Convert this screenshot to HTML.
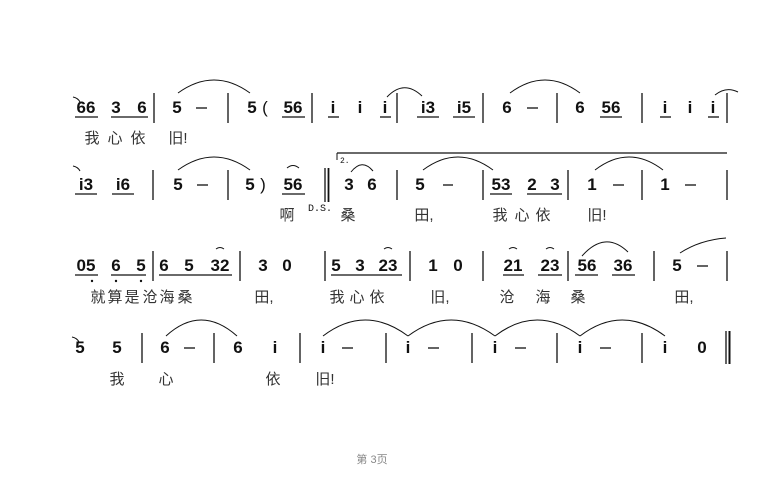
<!DOCTYPE html>
<html><head><meta charset="utf-8"><style>
html,body{margin:0;padding:0;background:#fff;}
svg{display:block;}
.n{font:bold 17px "Liberation Sans",sans-serif;fill:#111;text-anchor:middle;}
.l{font:15px "Liberation Sans","Noto Sans CJK SC",sans-serif;fill:#333;text-anchor:middle;}
.s{font:10px "Liberation Mono",monospace;fill:#111;}
line{stroke:#111;stroke-width:1.3;}
path{stroke:#111;stroke-width:1;fill:none;}
</style></head><body>
<svg width="779" height="492" viewBox="0 0 779 492" xmlns="http://www.w3.org/2000/svg">
<!-- ROW 1 baseline 113 -->
<g>
<text class="n" x="86" y="113">66</text><text class="n" x="116" y="113">3</text><text class="n" x="142" y="113">6</text>
<line x1="75" y1="117" x2="98" y2="117"/><line x1="111" y1="117" x2="148" y2="117"/>
<line x1="154" y1="93" x2="154" y2="123"/>
<text class="n" x="177" y="113">5</text><line x1="196" y1="108" x2="207" y2="108"/>
<line x1="228" y1="93" x2="228" y2="123"/>
<text class="n" x="252" y="113">5</text><text class="n" x="265" y="113" style="font-weight:normal">(</text>
<text class="n" x="293" y="113">56</text><line x1="282" y1="117" x2="305" y2="117"/>
<line x1="312" y1="93" x2="312" y2="123"/>
<text class="n" x="333" y="113">i</text><text class="n" x="360" y="113">i</text><text class="n" x="385" y="113">i</text>
<line x1="328" y1="117" x2="339" y2="117"/><line x1="380" y1="117" x2="391" y2="117"/>
<line x1="397" y1="93" x2="397" y2="123"/>
<text class="n" x="428" y="113">i3</text><text class="n" x="464" y="113">i5</text>
<line x1="417" y1="117" x2="439" y2="117"/><line x1="453" y1="117" x2="475" y2="117"/>
<line x1="483" y1="93" x2="483" y2="123"/>
<text class="n" x="507" y="113">6</text><line x1="527" y1="108" x2="538" y2="108"/>
<line x1="557" y1="93" x2="557" y2="123"/>
<text class="n" x="580" y="113">6</text><text class="n" x="611" y="113">56</text><line x1="600" y1="117" x2="622" y2="117"/>
<line x1="642" y1="93" x2="642" y2="123"/>
<text class="n" x="665" y="113">i</text><text class="n" x="690" y="113">i</text><text class="n" x="713" y="113">i</text>
<line x1="660" y1="117" x2="671" y2="117"/><line x1="708" y1="117" x2="719" y2="117"/>
<line x1="727" y1="93" x2="727" y2="123"/>
<path d="M73 97 Q78 98 80 102"/>
<path d="M178 93 Q214 67 250 93"/>
<path d="M387 97 Q404 79 422 96"/>
<path d="M510 93 Q545 67 580 93"/>
<path d="M715 95 Q726 86 738 92"/>
<text class="l" x="92" y="143">我</text><text class="l" x="115" y="143">心</text><text class="l" x="138" y="143">依</text><text class="l" x="178" y="143">旧!</text>
</g>
<!-- ROW 2 baseline 190 -->
<g>
<text class="n" x="86" y="190">i3</text><text class="n" x="123" y="190">i6</text>
<line x1="75" y1="194" x2="97" y2="194"/><line x1="112" y1="194" x2="134" y2="194"/>
<line x1="153" y1="170" x2="153" y2="200"/>
<text class="n" x="178" y="190">5</text><line x1="197" y1="185" x2="208" y2="185"/>
<line x1="228" y1="170" x2="228" y2="200"/>
<text class="n" x="250" y="190">5</text><text class="n" x="263" y="190" style="font-weight:normal">)</text>
<text class="n" x="293" y="190">56</text><line x1="282" y1="194" x2="305" y2="194"/>
<line x1="325" y1="168" x2="325" y2="202"/><line x1="328.5" y1="168" x2="328.5" y2="202" style="stroke-width:1.8"/>
<line x1="337" y1="153" x2="727" y2="153"/><line x1="337" y1="153" x2="337" y2="160" style="stroke-width:1"/>
<text class="s" x="340" y="163" style="font-size:8px">2.</text>
<text class="n" x="349" y="190">3</text><text class="n" x="372" y="190">6</text>
<line x1="397" y1="170" x2="397" y2="200"/>
<text class="n" x="420" y="190">5</text><line x1="443" y1="185" x2="453" y2="185"/>
<line x1="483" y1="170" x2="483" y2="200"/>
<text class="n" x="501" y="190">53</text><text class="n" x="532" y="190">2</text><text class="n" x="555" y="190">3</text>
<line x1="490" y1="194" x2="512" y2="194"/><line x1="527" y1="194" x2="562" y2="194"/>
<line x1="568" y1="170" x2="568" y2="200"/>
<text class="n" x="592" y="190">1</text><line x1="613" y1="185" x2="624" y2="185"/>
<line x1="642" y1="170" x2="642" y2="200"/>
<text class="n" x="665" y="190">1</text><line x1="685" y1="185" x2="696" y2="185"/>
<line x1="727" y1="170" x2="727" y2="200"/>
<path d="M73 166 Q78 167 80 171"/>
<path d="M178 170 Q214 144 250 170"/>
<path d="M287 168 Q293 163 299 168"/>
<path d="M351 172 Q362 158 373 171"/>
<path d="M423 170 Q458 144 493 170"/>
<path d="M595 170 Q629 144 663 170"/>
<text class="l" x="287" y="220">啊</text>
<text class="s" x="308" y="211">D.S.</text>
<text class="l" x="348" y="220">桑</text><text class="l" x="424" y="220">田,</text>
<text class="l" x="500" y="220">我</text><text class="l" x="522" y="220">心</text><text class="l" x="543" y="220">依</text><text class="l" x="597" y="220">旧!</text>
</g>
<!-- ROW 3 baseline 271 -->
<g>
<text class="n" x="86" y="271">05</text><text class="n" x="116" y="271">6</text><text class="n" x="141" y="271">5</text>
<line x1="75" y1="275" x2="98" y2="275"/><line x1="111" y1="275" x2="146" y2="275"/>
<circle cx="92" cy="281" r="1.2" fill="#111"/><circle cx="116" cy="281" r="1.2" fill="#111"/><circle cx="141" cy="281" r="1.2" fill="#111"/>
<line x1="153" y1="251" x2="153" y2="281"/>
<text class="n" x="164" y="271">6</text><text class="n" x="189" y="271">5</text><text class="n" x="220" y="271">32</text>
<line x1="159" y1="275" x2="232" y2="275"/>
<path d="M216 249 Q220 246 224 249"/>
<line x1="240" y1="251" x2="240" y2="281"/>
<text class="n" x="263" y="271">3</text><text class="n" x="287" y="271">0</text>
<line x1="325" y1="251" x2="325" y2="281"/>
<text class="n" x="336" y="271">5</text><text class="n" x="360" y="271">3</text><text class="n" x="388" y="271">23</text>
<line x1="331" y1="275" x2="402" y2="275"/>
<path d="M384 249 Q388 246 392 249"/>
<line x1="410" y1="251" x2="410" y2="281"/>
<text class="n" x="433" y="271">1</text><text class="n" x="458" y="271">0</text>
<line x1="483" y1="251" x2="483" y2="281"/>
<text class="n" x="513" y="271">21</text><text class="n" x="550" y="271">23</text>
<line x1="503" y1="275" x2="524" y2="275"/><line x1="538" y1="275" x2="562" y2="275"/>
<path d="M509 249 Q513 246 517 249"/><path d="M546 249 Q550 246 554 249"/>
<line x1="568" y1="251" x2="568" y2="281"/>
<text class="n" x="587" y="271">56</text><text class="n" x="623" y="271">36</text>
<line x1="575" y1="275" x2="598" y2="275"/><line x1="612" y1="275" x2="635" y2="275"/>
<path d="M582 256 Q605 230 628 252"/>
<line x1="654" y1="251" x2="654" y2="281"/>
<text class="n" x="677" y="271">5</text><line x1="697" y1="266" x2="708" y2="266"/>
<line x1="727" y1="251" x2="727" y2="281"/>
<path d="M680 253 Q700 240 726 238"/>
<text class="l" x="98" y="302">就</text><text class="l" x="115" y="302">算</text><text class="l" x="132" y="302">是</text><text class="l" x="150" y="302">沧</text><text class="l" x="167" y="302">海</text><text class="l" x="185" y="302">桑</text>
<text class="l" x="264" y="302">田,</text>
<text class="l" x="337" y="302">我</text><text class="l" x="357" y="302">心</text><text class="l" x="377" y="302">依</text><text class="l" x="440" y="302">旧,</text>
<text class="l" x="507" y="302">沧</text><text class="l" x="543" y="302">海</text><text class="l" x="578" y="302">桑</text><text class="l" x="684" y="302">田,</text>
</g>
<!-- ROW 4 baseline 353 -->
<g>
<text class="n" x="80" y="353">5</text><text class="n" x="117" y="353">5</text>
<line x1="142" y1="333" x2="142" y2="363"/>
<text class="n" x="165" y="353">6</text><line x1="184" y1="348" x2="195" y2="348"/>
<line x1="214" y1="333" x2="214" y2="363"/>
<text class="n" x="238" y="353">6</text><text class="n" x="275" y="353">i</text>
<line x1="300" y1="333" x2="300" y2="363"/>
<text class="n" x="323" y="353">i</text><line x1="342" y1="348" x2="353" y2="348"/>
<line x1="386" y1="333" x2="386" y2="363"/>
<text class="n" x="408" y="353">i</text><line x1="428" y1="348" x2="439" y2="348"/>
<line x1="472" y1="333" x2="472" y2="363"/>
<text class="n" x="495" y="353">i</text><line x1="515" y1="348" x2="526" y2="348"/>
<line x1="557" y1="333" x2="557" y2="363"/>
<text class="n" x="580" y="353">i</text><line x1="600" y1="348" x2="611" y2="348"/>
<line x1="642" y1="333" x2="642" y2="363"/>
<text class="n" x="665" y="353">i</text><text class="n" x="702" y="353">0</text>
<line x1="726" y1="331" x2="726" y2="364"/><line x1="729.5" y1="331" x2="729.5" y2="364" style="stroke-width:2"/>
<path d="M72 337 Q77 338 79 342"/>
<path d="M166 336 Q201 304 237 336"/>
<path d="M323 336 Q365 304 408 336"/>
<path d="M408 336 Q451 304 495 336"/>
<path d="M495 336 Q537 304 580 336"/>
<path d="M580 336 Q622 304 665 336"/>
<text class="l" x="117" y="384">我</text><text class="l" x="166" y="384">心</text><text class="l" x="273" y="384">依</text><text class="l" x="325" y="384">旧!</text>
</g>
<text class="l" x="372" y="463" style="font-size:11px;fill:#888">第 3页</text>
</svg>
</body></html>
